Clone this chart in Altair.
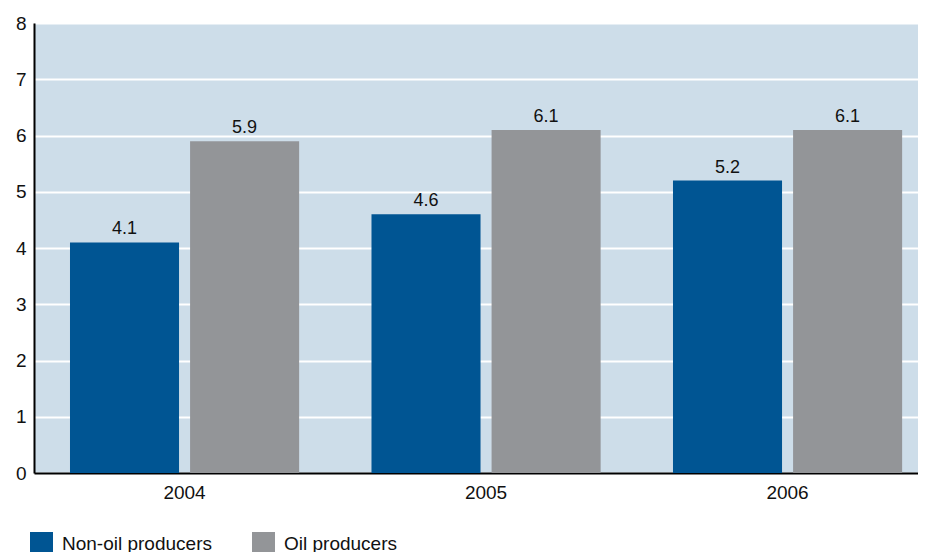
import altair as alt
import pandas as pd

years = ["2004", "2005", "2006"]
series = ["Non-oil producers", "Oil producers"]
non_oil = [4.1, 4.6, 5.2]
oil = [5.9, 6.1, 6.1]
y_ticks = [0, 1, 2, 3, 4, 5, 6, 7, 8]
colors = ["#005593", "#939598"]

rows = []
for i, yr in enumerate(years):
    rows.append({"year": yr, "series": series[0], "value": non_oil[i]})
    rows.append({"year": yr, "series": series[1], "value": oil[i]})
df = pd.DataFrame(rows)

FONT = "Liberation Sans"

x_enc = alt.X(
    "year:N",
    sort=years,
    scale=alt.Scale(paddingInner=0.24, paddingOuter=0.086, align=0.694),
    axis=alt.Axis(
        title=None, labelAngle=0, ticks=False, labelFontSize=19, labelFont=FONT,
        labelColor="#111111", labelPadding=10, domainColor="#000000", domainWidth=2,
        grid=False,
    ),
)
xo_enc = alt.XOffset("series:N", sort=series,
                     scale=alt.Scale(paddingInner=0.092, paddingOuter=0))
y_enc = alt.Y(
    "value:Q",
    scale=alt.Scale(domain=[0, 8], nice=False),
    axis=alt.Axis(
        title=None, values=y_ticks, format="d", ticks=False, labelFontSize=19,
        labelFont=FONT, labelColor="#111111", labelPadding=8,
        domainColor="#000000", domainWidth=2,
        grid=True, gridColor="#ffffff", gridWidth=2,
    ),
)

bars = alt.Chart(df).mark_bar().encode(
    x=x_enc,
    xOffset=xo_enc,
    y=y_enc,
    color=alt.Color(
        "series:N",
        sort=series,
        scale=alt.Scale(domain=series, range=colors),
        legend=alt.Legend(
            orient="none", legendX=-4, legendY=509, direction="horizontal",
            title=None, symbolType="square", symbolSize=529, symbolStrokeWidth=0,
            symbolOpacity=1, labelFontSize=19, labelFont=FONT, labelColor="#111111",
            labelOffset=9, columnPadding=40,
        ),
    ),
)

labels = alt.Chart(df).mark_text(
    dy=-8, baseline="alphabetic", fontSize=18, font=FONT, color="#111111"
).encode(
    x=alt.X("year:N", sort=years),
    xOffset=alt.XOffset("series:N", sort=series),
    y=alt.Y("value:Q"),
    text=alt.Text("value:Q", format=".1f"),
)

chart = (
    alt.layer(bars, labels)
    .properties(
        width=884, height=450,
        autosize=alt.AutoSizeParams(type="none"),
        padding={"left": 26, "top": 15, "right": 0, "bottom": 79},
    )
    .configure_view(fill="#cddde9", stroke=None)
)

chart.save("out.html", embed_options={"renderer": "svg", "actions": False})
